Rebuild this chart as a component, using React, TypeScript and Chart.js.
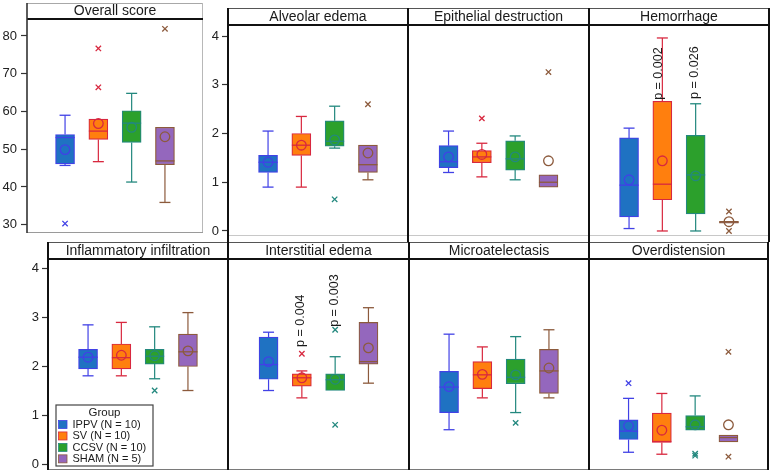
import React, { useEffect, useRef } from "react";
import { Chart, registerables } from "chart.js";

Chart.register(...registerables);

const FONT = "'Liberation Sans', Arial, Helvetica, sans-serif";

// Groups
const groupNames = ["IPPV", "SV", "CCSV", "SHAM"];
const groupSizes = [10, 10, 10, 5];
const groupFill = ["#1f72c2", "#ff7f0e", "#2ca02c", "#9467bd"];
const groupEdge = ["#4141e6", "#d8283f", "#23887e", "#8c5a3c"];

const panelTitles = [
  "Overall score",
  "Alveolar edema",
  "Epithelial destruction",
  "Hemorrhage",
  "Inflammatory infiltration",
  "Interstitial edema",
  "Microatelectasis",
  "Overdistension",
];

const scoreTicks = [30, 40, 50, 60, 70, 80];
const gradeTicks = [0, 1, 2, 3, 4];

// Box-plot statistics: one row per panel, one value per group (IPPV, SV, CCSV, SHAM)
const whiskerLow = [
  [45.7, 46.7, 41.3, 35.9],
  [0.9, 0.9, 1.7, 1.05],
  [1.2, 1.11, 1.05, 0.9],
  [0.05, 0.0, 0.0, 0.16],
  [1.8, 1.8, 1.74, 1.5],
  [1.5, 1.35, 1.5, 1.65],
  [0.7, 1.35, 1.05, 1.35],
  [0.24, 0.2, 0.69, 0.45],
];
const boxLow = [
  [46.1, 52.6, 51.8, 45.9],
  [1.2, 1.55, 1.74, 1.2],
  [1.3, 1.4, 1.25, 0.9],
  [0.29, 0.64, 0.35, 0.16],
  [1.94, 1.94, 2.04, 1.99],
  [1.73, 1.59, 1.5, 2.04],
  [1.05, 1.54, 1.64, 1.44],
  [0.5, 0.44, 0.69, 0.45],
];
const medians = [
  [53.1, 54.8, 56.9, 46.9],
  [1.41, 1.76, 1.84, 1.36],
  [1.42, 1.52, 1.48, 1.0],
  [0.94, 0.96, 1.15, 0.18],
  [2.18, 2.17, 2.2, 2.29],
  [2.03, 1.76, 1.72, 2.09],
  [1.57, 1.82, 1.77, 1.9],
  [0.67, 0.46, 0.76, 0.54],
];
const boxHigh = [
  [53.9, 58.0, 60.2, 55.8],
  [1.55, 2.0, 2.26, 1.76],
  [1.75, 1.65, 1.85, 1.15],
  [1.91, 2.66, 1.96, 0.2],
  [2.34, 2.45, 2.34, 2.65],
  [2.59, 1.84, 1.84, 2.89],
  [1.89, 2.09, 2.14, 2.34],
  [0.9, 1.04, 0.99, 0.59],
];
const whiskerHigh = [
  [59.0, 58.0, 64.8, 55.8],
  [2.05, 2.35, 2.56, 1.76],
  [2.05, 1.8, 1.95, 1.15],
  [2.11, 3.96, 2.61, 0.2],
  [2.84, 2.89, 2.8, 3.09],
  [2.69, 1.9, 2.19, 3.19],
  [2.65, 2.39, 2.6, 2.74],
  [1.34, 1.44, 1.39, 0.59],
];
const means = [
  [49.9, 56.8, 55.8, 53.3],
  [1.41, 1.76, 1.87, 1.6],
  [1.52, 1.57, 1.52, 1.44],
  [1.05, 1.44, 1.13, 0.19],
  [2.18, 2.22, 2.21, 2.31],
  [2.09, 1.76, 1.73, 2.37],
  [1.58, 1.83, 1.82, 1.96],
  [0.78, 0.69, 0.8, 0.8],
];
const outliers: number[][][] = [
  [[30.3], [76.7, 66.4], [], [81.9]],
  [[], [], [0.65], [2.6]],
  [[], [2.31], [], [3.26]],
  [[], [], [], [0.4, 0.0]],
  [[], [], [1.5], []],
  [[], [2.25], [2.74, 0.8], []],
  [[], [], [0.84], []],
  [[1.65], [], [0.17, 0.21], [2.29, 0.15]],
];

// p-value annotations (panel, group, text, value where the label starts)
const pPanel = [3, 3, 5, 5];
const pGroup = [1, 2, 1, 2];
const pText = ["p = 0.002", "p = 0.026", "p = 0.004", "p = 0.003"];
const pFrom = [2.69, 2.71, 2.39, 2.8];

// Panel layout (page pixels of each plot area and its header band)
type Frame = {
  left: number; right: number; top: number; bottom: number; head: number;
  axis: number; yMin: number; yMax: number; ticks: number[] | null;
  soft?: boolean; tail?: number; bottomColor: string;
};
const frames: Frame[] = [
  { left: 27, right: 203, top: 19, bottom: 233, head: 3, axis: 27, yMin: 27.8, yMax: 84.5, ticks: scoreTicks, soft: true, bottomColor: "#9a9a9a" },
  { left: 228, right: 408, top: 25, bottom: 236, head: 8, axis: 24, yMin: -0.103, yMax: 4.226, ticks: gradeTicks, tail: 6, bottomColor: "#c8c8c8" },
  { left: 408, right: 589, top: 25, bottom: 236, head: 8, axis: 0, yMin: -0.103, yMax: 4.226, ticks: null, tail: 6, bottomColor: "#c8c8c8" },
  { left: 589, right: 769, top: 25, bottom: 236, head: 8, axis: 0, yMin: -0.103, yMax: 4.226, ticks: null, tail: 6, bottomColor: "#c8c8c8" },
  { left: 48, right: 228, top: 259, bottom: 470, head: 242, axis: 44, yMin: -0.122, yMax: 4.184, ticks: gradeTicks, bottomColor: "#7a7a7a" },
  { left: 228, right: 409, top: 259, bottom: 470, head: 242, axis: 0, yMin: -0.122, yMax: 4.184, ticks: null, bottomColor: "#7a7a7a" },
  { left: 409, right: 589, top: 259, bottom: 470, head: 242, axis: 0, yMin: -0.122, yMax: 4.184, ticks: null, bottomColor: "#7a7a7a" },
  { left: 589, right: 768, top: 259, bottom: 470, head: 242, axis: 0, yMin: -0.122, yMax: 4.184, ticks: null, bottomColor: "#7a7a7a" },
];

const M = 12; // canvas margin around each panel
const GROUP_SPACING = 33.3;

function line(ctx: CanvasRenderingContext2D, x1: number, y1: number, x2: number, y2: number, color: string, w: number) {
  ctx.beginPath();
  ctx.strokeStyle = color;
  ctx.lineWidth = w;
  ctx.moveTo(x1, y1);
  ctx.lineTo(x2, y2);
  ctx.stroke();
}

// Whiskers, caps, medians and p-value labels
function boxParts(p: number) {
  return {
    id: "boxParts",
    afterDatasetsDraw(chart: any) {
      const { ctx } = chart;
      const xs = chart.scales.x;
      const ys = chart.scales.y;
      const bars = chart.getDatasetMeta(0).data;
      ctx.save();
      groupNames.forEach((_, g) => {
        const cx = xs.getPixelForValue(g + 1);
        const half = bars[g] ? bars[g].width / 2 : 9.5;
        const col = groupEdge[g];
        const cap = 5.5;
        if (whiskerLow[p][g] < boxLow[p][g]) {
          const yl = ys.getPixelForValue(whiskerLow[p][g]);
          line(ctx, cx, ys.getPixelForValue(boxLow[p][g]), cx, yl, col, 1.2);
          line(ctx, cx - cap, yl, cx + cap, yl, col, 1.3);
        }
        if (whiskerHigh[p][g] > boxHigh[p][g]) {
          const yh = ys.getPixelForValue(whiskerHigh[p][g]);
          line(ctx, cx, ys.getPixelForValue(boxHigh[p][g]), cx, yh, col, 1.2);
          line(ctx, cx - cap, yh, cx + cap, yh, col, 1.3);
        }
        const ym = ys.getPixelForValue(medians[p][g]);
        line(ctx, cx - half, ym, cx + half, ym, col, 1.3);
      });
      pPanel.forEach((pp, k) => {
        if (pp !== p) return;
        const g = pGroup[k];
        const cx = xs.getPixelForValue(g + 1);
        const dx = whiskerHigh[p][g] > pFrom[k] ? -4 : -1;
        const y0 = ys.getPixelForValue(pFrom[k]);
        ctx.save();
        ctx.translate(cx + dx, y0);
        ctx.rotate(-Math.PI / 2);
        ctx.fillStyle = "#1a1a1a";
        ctx.font = `12.5px ${FONT}`;
        ctx.textAlign = "left";
        ctx.textBaseline = "middle";
        ctx.fillText(pText[k], 0, 0);
        ctx.restore();
      });
      ctx.restore();
    },
  };
}

// Panel border and title strip
function panelFrame(p: number) {
  return {
    id: "panelFrame",
    afterDraw(chart: any) {
      const { ctx, chartArea: a } = chart;
      const f = frames[p];
      const headTop = a.top - (f.top - f.head);
      ctx.save();
      ctx.fillStyle = "#ffffff";
      ctx.fillRect(a.left, headTop, a.right - a.left, a.top - headTop);
      ctx.fillStyle = "#1a1a1a";
      ctx.font = `14px ${FONT}`;
      ctx.textAlign = "center";
      ctx.textBaseline = "middle";
      ctx.fillText(panelTitles[p], (a.left + a.right) / 2, (headTop + a.top) / 2 + 0.5);
      const tail = f.tail || 0;
      if (f.soft) {
        line(ctx, a.left, headTop + 0.5, a.right, headTop + 0.5, "#a8a8a8", 1);
        line(ctx, a.right - 0.5, headTop, a.right - 0.5, a.bottom, "#b8b8b8", 1);
        line(ctx, a.left, a.bottom - 0.5, a.right, a.bottom - 0.5, f.bottomColor, 1);
        line(ctx, a.left, a.top, a.right, a.top, "#111111", 2);
        line(ctx, a.left, headTop, a.left, a.bottom, "#333333", 1.6);
      } else {
        line(ctx, a.left, headTop + 0.5, a.right, headTop + 0.5, "#555555", 1.2);
        line(ctx, a.left, a.bottom - 0.5, a.right, a.bottom - 0.5, f.bottomColor, 1);
        line(ctx, a.left, a.top, a.right, a.top, "#111111", 2);
        line(ctx, a.left, headTop, a.left, a.bottom + tail, "#111111", 2);
        line(ctx, a.right, headTop, a.right, a.bottom + tail, "#111111", 2);
      }
      ctx.restore();
    },
  };
}

// Group legend inside the lower-left panel
const groupLegend = {
  id: "groupLegend",
  afterDraw(chart: any) {
    const { ctx, chartArea: a } = chart;
    const bx = a.left + 8;
    const by = a.bottom - 65;
    const bw = 97;
    const bh = 61;
    ctx.save();
    ctx.fillStyle = "#ffffff";
    ctx.fillRect(bx, by, bw, bh);
    ctx.strokeStyle = "#444444";
    ctx.lineWidth = 1.2;
    ctx.strokeRect(bx, by, bw, bh);
    ctx.fillStyle = "#1a1a1a";
    ctx.textBaseline = "middle";
    ctx.textAlign = "center";
    ctx.font = `11.5px ${FONT}`;
    ctx.fillText("Group", bx + bw / 2, by + 7.5);
    ctx.textAlign = "left";
    ctx.font = `11px ${FONT}`;
    groupNames.forEach((name, i) => {
      const cy = by + 19.5 + i * 11.45;
      ctx.fillStyle = groupFill[i];
      ctx.fillRect(bx + 2.5, cy - 4, 8.5, 8);
      ctx.strokeStyle = groupEdge[i];
      ctx.lineWidth = 0.8;
      ctx.strokeRect(bx + 2.5, cy - 4, 8.5, 8);
      ctx.fillStyle = "#1a1a1a";
      ctx.fillText(`${name} (N = ${groupSizes[i]})`, bx + 16.5, cy + 0.5);
    });
    ctx.restore();
  },
};

function makeConfig(p: number): any {
  const f = frames[p];
  const headH = f.top - f.head;
  const halfRange = (f.right - f.left) / (2 * GROUP_SPACING);
  const xs = groupNames.map((_, g) => g + 1);
  const outlierPts: { x: number; y: number }[] = [];
  const outlierCols: string[] = [];
  outliers[p].forEach((list, g) =>
    list.forEach((v) => {
      outlierPts.push({ x: g + 1, y: v });
      outlierCols.push(groupEdge[g]);
    })
  );
  const tickVals = f.ticks;
  return {
    type: "bar",
    data: {
      datasets: [
        {
          type: "bar",
          data: xs.map((x, g) => ({ x, y: [boxLow[p][g], boxHigh[p][g]] })),
          backgroundColor: groupFill,
          borderColor: groupEdge,
          borderWidth: 1.2,
          borderSkipped: false,
          barThickness: 19,
          order: 3,
        },
        {
          type: "scatter",
          data: xs.map((x, g) => ({ x, y: means[p][g] })),
          pointStyle: "circle",
          pointRadius: 4.8,
          pointBorderWidth: 1.3,
          pointBorderColor: groupEdge,
          pointBackgroundColor: "rgba(0,0,0,0)",
          order: 1,
        },
        {
          type: "scatter",
          data: outlierPts,
          pointStyle: "crossRot",
          pointRadius: 3.8,
          pointBorderWidth: 1.3,
          pointBorderColor: outlierCols,
          order: 2,
        },
      ],
    },
    options: {
      responsive: false,
      animation: false,
      events: [],
      layout: { padding: { left: M, right: M, top: M + headH, bottom: M } },
      plugins: {
        legend: { display: false },
        tooltip: { enabled: false },
        title: { display: false },
      },
      scales: {
        x: {
          type: "linear",
          min: 2.5 - halfRange,
          max: 2.5 + halfRange,
          display: false,
          offset: false,
        },
        y: {
          type: "linear",
          min: f.yMin,
          max: f.yMax,
          display: !!tickVals,
          afterFit: (s: any) => {
            s.width = f.axis;
          },
          afterBuildTicks: (s: any) => {
            if (tickVals) s.ticks = tickVals.map((v) => ({ value: v }));
          },
          grid: {
            drawOnChartArea: false,
            drawTicks: true,
            tickLength: 6,
            tickWidth: 1.2,
            tickColor: "#333333",
            color: "#333333",
          },
          border: { display: false },
          ticks: {
            font: { family: FONT, size: 13 },
            color: "#222222",
            padding: p === 0 ? 4 : 3,
          },
        },
      },
    },
    plugins: [boxParts(p), panelFrame(p), ...(p === 4 ? [groupLegend] : [])],
  };
}

function Panel({ index }: { index: number }) {
  const ref = useRef<HTMLCanvasElement>(null);
  const f = frames[index];
  const headH = f.top - f.head;
  const cw = f.axis + (f.right - f.left) + 2 * M;
  const ch = headH + (f.bottom - f.top) + 2 * M;
  const cl = f.left - f.axis - M;
  const ct = f.head - M;
  useEffect(() => {
    if (!ref.current) return;
    const chart = new Chart(ref.current, makeConfig(index));
    return () => chart.destroy();
  }, [index]);
  return (
    <canvas
      ref={ref}
      width={cw}
      height={ch}
      style={{ position: "absolute", left: cl, top: ct, width: cw, height: ch, display: "block" }}
    />
  );
}

export default function App() {
  return (
    <div
      style={{
        position: "absolute",
        left: 0,
        top: 0,
        width: 771,
        height: 476,
        overflow: "hidden",
        background: "#ffffff",
      }}
    >
      {panelTitles.map((_, i) => (
        <Panel key={i} index={i} />
      ))}
    </div>
  );
}
